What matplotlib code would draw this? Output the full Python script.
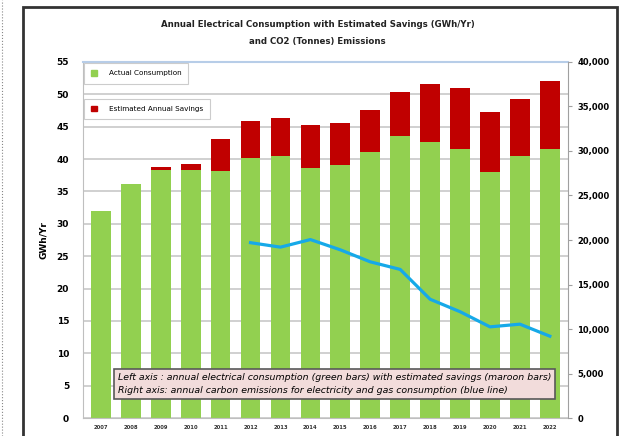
import matplotlib.pyplot as plt
import matplotlib.patches as mpatches
from matplotlib.lines import Line2D
from matplotlib.ticker import FuncFormatter

years = [2007, 2008, 2009, 2010, 2011, 2012, 2013, 2014,
         2015, 2016, 2017, 2018, 2019, 2020, 2021, 2022]
consumption = [32.0, 36.1, 38.3, 38.3, 38.1, 40.1, 40.4, 38.6,
               39.1, 41.1, 43.5, 42.6, 41.5, 38.0, 40.4, 41.6]
total_with_savings = [32.0, 36.1, 38.7, 39.3, 43.1, 45.9, 46.3, 45.3,
                      45.5, 47.6, 50.4, 51.6, 50.9, 47.3, 49.2, 52.0]
co2_years = [2012, 2013, 2014, 2015, 2016, 2017, 2018, 2019, 2020, 2021, 2022]
co2 = [19700, 19200, 20050, 18900, 17550, 16700, 13350, 11950, 10250, 10550, 9200]

savings = [t - c for t, c in zip(total_with_savings, consumption)]

green = "#92d050"
maroon = "#c00000"
blue = "#16a9e8"

fig = plt.figure(figsize=(6.33, 4.36), dpi=100)
ax = fig.add_axes([0.131, 0.041, 0.766, 0.817])

x = list(range(len(years)))
ax.bar(x, consumption, width=0.66, color=green, zorder=2)
ax.bar(x, savings, width=0.66, bottom=consumption, color=maroon, zorder=2)

ax.set_ylim(0, 55)
ax.set_xlim(-0.6, len(years) - 0.4)
ax.set_yticks(range(0, 56, 5))
ax.set_xticks(x)
ax.set_xticklabels([str(y) for y in years], fontsize=3.8, fontweight="bold", color="#333333")
ax.tick_params(axis="y", labelsize=6.5, length=0, pad=10)
for lab in ax.get_yticklabels():
    lab.set_fontweight("bold")
ax.tick_params(axis="x", length=0, pad=5)
ax.grid(axis="y", color="#c8c8c8", linewidth=1.2, zorder=0)
ax.set_axisbelow(True)
for s in ["left", "bottom"]:
    ax.spines[s].set_color("#bfbfbf")
ax.spines["top"].set_color("#b7cde8")
ax.spines["top"].set_linewidth(1.5)
ax.spines["right"].set_visible(False)
ax.set_ylabel("GWh/Yr", fontsize=6.5, fontweight="bold", labelpad=6)

ax2 = ax.twinx()
ax2.set_ylim(0, 40000)
ax2.set_yticks(range(0, 40001, 5000))
ax2.yaxis.set_major_formatter(FuncFormatter(lambda v, p: f"{int(v):,}"))
ax2.tick_params(axis="y", labelsize=6.0, length=3, color="#a0a0a0", pad=4)
for lab in ax2.get_yticklabels():
    lab.set_fontweight("bold")
for s in ["left", "top", "bottom"]:
    ax2.spines[s].set_visible(False)
ax2.spines["right"].set_color("#a0a0a0")
co2_x = [years.index(y) for y in co2_years]
ax2.plot(co2_x, co2, color=blue, linewidth=2.3, zorder=3)

leg1 = ax.legend(handles=[mpatches.Patch(color=green, label="Actual Consumption")],
                 loc="upper left", bbox_to_anchor=(0.0, 1.0), fontsize=5.2,
                 fancybox=False, edgecolor="#c0c0c0", handlelength=0.8, handleheight=0.8,
                 borderpad=1.0, handletextpad=1.6, borderaxespad=0.15)
leg1.get_frame().set_linewidth(0.8)
ax.add_artist(leg1)
leg2 = ax.legend(handles=[mpatches.Patch(color=maroon, label="Estimated Annual Savings")],
                 loc="upper left", bbox_to_anchor=(0.0, 0.9), fontsize=5.2,
                 fancybox=False, edgecolor="#c0c0c0", handlelength=0.8, handleheight=0.8,
                 borderpad=1.0, handletextpad=1.6, borderaxespad=0.15)
leg2.get_frame().set_linewidth(0.8)

note = ("Left axis : annual electrical consumption (green bars) with estimated savings (maroon bars)\n"
        "Right axis: annual carbon emissions for electricity and gas consumption (blue line)")
ax2.text(0.072, 0.095, note, transform=ax.transAxes, fontsize=6.75, style="italic",
         va="center", ha="left", linespacing=1.55, zorder=5,
         bbox=dict(boxstyle="square,pad=0.45", facecolor="#f2dcdb", edgecolor="#595959",
                   linewidth=1.2))

fig.text(0.502, 0.943, "Annual Electrical Consumption with Estimated Savings (GWh/Yr)",
         ha="center", va="center", fontsize=6.2, fontweight="bold", color="#222222")
fig.text(0.502, 0.904, "and CO2 (Tonnes) Emissions",
         ha="center", va="center", fontsize=6.2, fontweight="bold", color="#222222")

frame = mpatches.Rectangle((23 / 633, -0.05), (617 - 23) / 633, 1.05 - 7 / 436,
                           transform=fig.transFigure, fill=False, edgecolor="#333333",
                           linewidth=2)
fig.patches.append(frame)
fig.add_artist(Line2D([2 / 633, 2 / 633], [0, 1], transform=fig.transFigure,
                      color="#888888", linestyle=":", linewidth=0.8))

fig.savefig("out.png", dpi=100)
